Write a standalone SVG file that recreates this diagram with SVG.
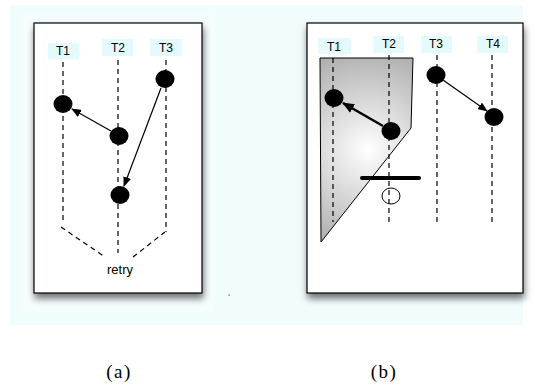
<svg xmlns="http://www.w3.org/2000/svg" width="535" height="385" viewBox="0 0 535 385">
<style>
.lbl{font-family:"Liberation Sans",Arial,sans-serif;font-size:12px;fill:#000;text-anchor:middle}
.cap{font-family:"Liberation Serif","Times New Roman",serif;font-size:19px;letter-spacing:1.5px;fill:#000;text-anchor:middle}
.lb{fill:#e4fafc}
.dash{stroke:#000;stroke-width:1.2;stroke-dasharray:5,4;fill:none}
.node{fill:#000}
.arr{stroke:#000;stroke-width:1.2;fill:none;marker-end:url(#ah)}
.box{fill:#fff;stroke:#000;stroke-width:1.2;filter:url(#sh)}
</style>
<defs>
<marker id="ah" markerWidth="10" markerHeight="8" refX="9" refY="4" orient="auto" markerUnits="userSpaceOnUse">
<path d="M0,0 L10,4 L0,8 Z" fill="#000"/>
</marker>
<marker id="ah2" markerWidth="12" markerHeight="10" refX="11" refY="5" orient="auto" markerUnits="userSpaceOnUse">
<path d="M0,0 L12,5 L0,10 Z" fill="#000"/>
</marker>
<filter id="sh" x="-10%" y="-10%" width="125%" height="125%">
<feDropShadow dx="1" dy="5" stdDeviation="3.5" flood-color="#000" flood-opacity="0.55"/>
</filter>
<radialGradient id="gg" cx="368" cy="150" r="110" gradientUnits="userSpaceOnUse">
<stop offset="0" stop-color="#ffffff"/>
<stop offset="1" stop-color="#a8a8a8"/>
</radialGradient>
</defs>
<rect x="10" y="5" width="513" height="320" fill="#f1fcfd"/>
<rect x="20" y="15" width="195" height="297" fill="#f5fdfe"/>

<!-- Panel (a) -->
<g id="panel-a">
<rect class="box" x="34" y="23" width="168" height="270"/>
</g>
<g id="a-labels">
<g id="a-T1"><rect class="lb" x="48" y="43" width="31" height="16"/><text class="lbl" x="63" y="55">T1</text></g>
<g id="a-T2"><rect class="lb" x="102" y="39" width="31" height="17"/><text class="lbl" x="118" y="52">T2</text></g>
<g id="a-T3"><rect class="lb" x="150" y="39" width="32" height="17"/><text class="lbl" x="166" y="52">T3</text></g>
</g>
<g id="a-lines">
<line class="dash" x1="63" y1="62" x2="63" y2="224"/>
<line class="dash" x1="118" y1="60" x2="118" y2="253"/>
<line class="dash" x1="166" y1="60" x2="166" y2="232"/>
<line class="dash" x1="61" y1="227" x2="105" y2="257"/>
<line class="dash" x1="133" y1="257" x2="165" y2="232"/>
</g>
<g id="a-n1"><ellipse class="node" cx="63" cy="104" rx="9.5" ry="9"/></g>
<g id="a-n2"><ellipse class="node" cx="119" cy="136" rx="9.5" ry="9"/></g>
<g id="a-n3"><ellipse class="node" cx="120" cy="195" rx="9.5" ry="9"/></g>
<g id="a-n4"><ellipse class="node" cx="165" cy="79" rx="9.5" ry="9"/></g>
<g id="a-connectors">
<line class="arr" x1="111" y1="131" x2="72" y2="109"/>
<line class="arr" x1="161" y1="88" x2="124" y2="186"/>
</g>
<g id="a-retry"><text class="lbl" x="120" y="274" style="font-size:13px">retry</text></g>
<rect x="228.5" y="294.5" width="1.2" height="1.2" fill="#444"/>

<!-- Panel (b) -->
<g id="panel-b">
<rect class="box" x="307" y="23" width="216" height="270"/>
</g>
<g id="b-region">
<polygon points="320,58 413,58 411,128 321,242" fill="url(#gg)" stroke="#000" stroke-width="1"/>
</g>
<g id="b-labels">
<g id="b-T1"><rect class="lb" x="318" y="38" width="33" height="16"/><text class="lbl" x="334" y="51">T1</text></g>
<g id="b-T2"><rect class="lb" x="373" y="36" width="31" height="17"/><text class="lbl" x="389" y="48">T2</text></g>
<g id="b-T3"><rect class="lb" x="421" y="36" width="31" height="17"/><text class="lbl" x="436" y="48">T3</text></g>
<g id="b-T4"><rect class="lb" x="477" y="36" width="31" height="17"/><text class="lbl" x="493" y="48">T4</text></g>
</g>
<g id="b-lines">
<line class="dash" x1="333" y1="58" x2="333" y2="222"/>
<line class="dash" x1="389" y1="55" x2="389" y2="224"/>
<line class="dash" x1="437" y1="55" x2="437" y2="224"/>
<line class="dash" x1="492" y1="55" x2="492" y2="224"/>
</g>
<g id="b-n1"><ellipse class="node" cx="334" cy="98" rx="9.5" ry="9"/></g>
<g id="b-n2"><ellipse class="node" cx="391" cy="131" rx="9.5" ry="9"/></g>
<g id="b-n3"><ellipse class="node" cx="436" cy="75" rx="9.5" ry="9"/></g>
<g id="b-n4"><ellipse class="node" cx="494" cy="117" rx="9.5" ry="9"/></g>
<g id="b-connectors">
<line x1="383" y1="126" x2="343" y2="103" stroke="#000" stroke-width="2.5" marker-end="url(#ah2)"/>
<line class="arr" x1="443" y1="80" x2="487" y2="111"/>
</g>
<g id="b-bar">
<line x1="362" y1="178" x2="419" y2="178" stroke="#000" stroke-width="4" stroke-linecap="round"/>
<ellipse cx="391" cy="196" rx="9" ry="8" fill="none" stroke="#000" stroke-width="1"/>
</g>

<text class="cap" x="119" y="378">(a)</text>
<text class="cap" x="384" y="378">(b)</text>
</svg>
